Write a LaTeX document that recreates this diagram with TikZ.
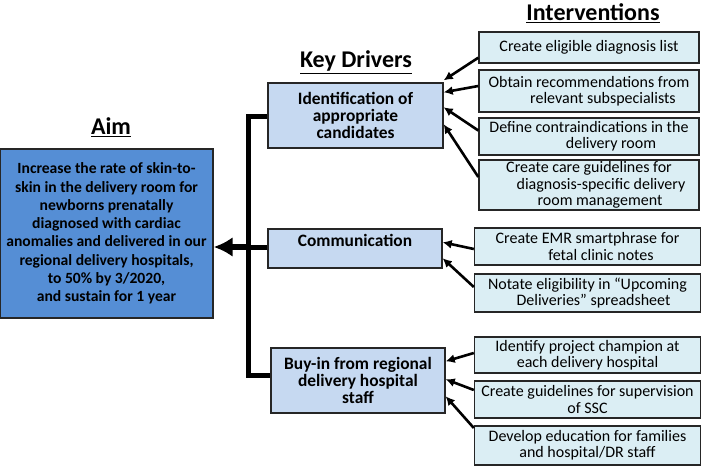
\documentclass[tikz,border=0pt]{standalone}
\usepackage{fontspec}
\setmainfont{Carlito}
\usetikzlibrary{arrows.meta,calc}
\definecolor{aimblue}{HTML}{558ED5}
\definecolor{drvblue}{HTML}{C6D9F1}
\definecolor{intblue}{HTML}{DBEEF4}
\definecolor{edge}{HTML}{262626}
\newcommand{\ind}[1]{\hspace*{#1pt}}
\tikzset{
  title/.style={font=\fontsize{24}{28}\selectfont\bfseries, inner sep=0},
  aimbox/.style={draw=edge, line width=1.4pt, fill=aimblue, align=center,
    font=\fontsize{15.6}{18.3}\selectfont\bfseries, inner sep=0},
  drvbox/.style={draw=edge, line width=1.4pt, fill=drvblue, align=center,
    font=\fontsize{17.4}{17.2}\selectfont\bfseries, inner sep=0},
  intbox/.style={draw=edge, line width=1.4pt, fill=intblue, align=center,
    font=\fontsize{16}{16.2}\selectfont, inner sep=0},
  tree/.style={line width=5pt},
  iarrow/.style={line width=2.6pt, -{Latex[length=9pt,width=9pt]}},
}
\begin{document}
\begin{tikzpicture}[x=1pt,y=-1pt]
\useasboundingbox (0,0) rectangle (705,466);
% titles
\node[title] (taim) at (111,127) {\underline{Aim}};
\node[title] (tkd) at (356,62) {\underline{Key Drivers}};
\node[title] (tint) at (593,13) {\underline{Interventions}};
% aim
\node[aimbox, minimum width=213, minimum height=169] (aim) at (106.5,233.5)
  {Increase the rate of skin-to-\\skin in the delivery room for\\newborns prenatally\\diagnosed with cardiac\\anomalies and delivered in our\\regional delivery hospitals,\\to 50\% by 3/2020,\\and sustain for 1 year};
% drivers
\node[drvbox, minimum width=175, minimum height=65] (d1) at (355.5,115.5)
  {Identification of\\appropriate\\candidates};
\node[drvbox, minimum width=174, minimum height=39,
  label={[font=\fontsize{17.4}{17.2}\selectfont\bfseries, yshift=8.5pt]center:Communication}] (d2) at (355,248.5) {};
\node[drvbox, minimum width=174, minimum height=65] (d3) at (358,380.5)
  {Buy-in from regional\\delivery hospital\\staff};
% interventions
\node[intbox, minimum width=220, minimum height=31] (i1) at (589,47.5)
  {Create eligible diagnosis list};
\node[intbox, minimum width=220, minimum height=42] (i2) at (589,91)
  {Obtain recommendations from\\\ind{28}relevant subspecialists};
\node[intbox, minimum width=220, minimum height=37] (i3) at (589,136.5)
  {Define contraindications in the\\\ind{44}delivery room};
\node[intbox, minimum width=220, minimum height=50] (i4) at (589,185)
  {Create care guidelines for\\\ind{24}diagnosis-specific delivery\\\ind{22}room management};
\node[intbox, minimum width=226, minimum height=37] (i5) at (587.5,246.5)
  {Create EMR smartphrase for\\\ind{27}fetal clinic notes};
\node[intbox, minimum width=226, minimum height=38] (i6) at (587.5,293)
  {Notate eligibility in “Upcoming\\\ind{12}Deliveries” spreadsheet};
\node[intbox, minimum width=226, minimum height=36] (i7) at (587.5,355)
  {Identify project champion at\\each delivery hospital};
\node[intbox, minimum width=226, minimum height=37] (i8) at (587.5,399.5)
  {Create guidelines for supervision\\of SSC};
\node[intbox, minimum width=226, minimum height=39] (i9) at (587.5,445.5)
  {Develop education for families\\and hospital/DR staff};
% tree
\coordinate (bar) at (248.5,247);
\draw[tree] ($(d1.west)+(0,0.5)$) -| ($(bar)+(0,-131)$) -- ($(bar)+(0,128)$) -- (d3.west |- 0,375);
\draw[tree] (d2.west |- bar) -- (bar);
\draw[line width=6.5pt, -{Latex[length=19pt,width=20pt]}] (bar) -- (aim.east |- bar);
% intervention arrows
\draw[iarrow] ($(i1.south west)+(0,-6)$) -- ($(d1.north east)+(0,-2)$);
\draw[iarrow] ($(i2.west)+(0,-5)$) -- ($(d1.north east)+(0,10)$);
\draw[iarrow] ($(i3.west)+(0,-6)$) -- ($(d1.north east)+(0,25)$);
\draw[iarrow] ($(i4.west)+(0,-8)$) -- ($(d1.north east)+(0,42)$);
\draw[iarrow] ($(i5.west)+(0,2.5)$) -- ($(d2.north east)+(0,14)$);
\draw[iarrow] ($(i6.west)+(0,-6)$) -- ($(d2.north east)+(0,30)$);
\draw[iarrow] ($(i7.west)+(0,-2)$) -- ($(d3.north east)+(0,14)$);
\draw[iarrow] ($(i8.west)+(0,-9.5)$) -- ($(d3.north east)+(0,32)$);
\draw[iarrow] ($(i9.west)+(0,-17.5)$) -- ($(d3.north east)+(0,49)$);
\end{tikzpicture}
\end{document}
